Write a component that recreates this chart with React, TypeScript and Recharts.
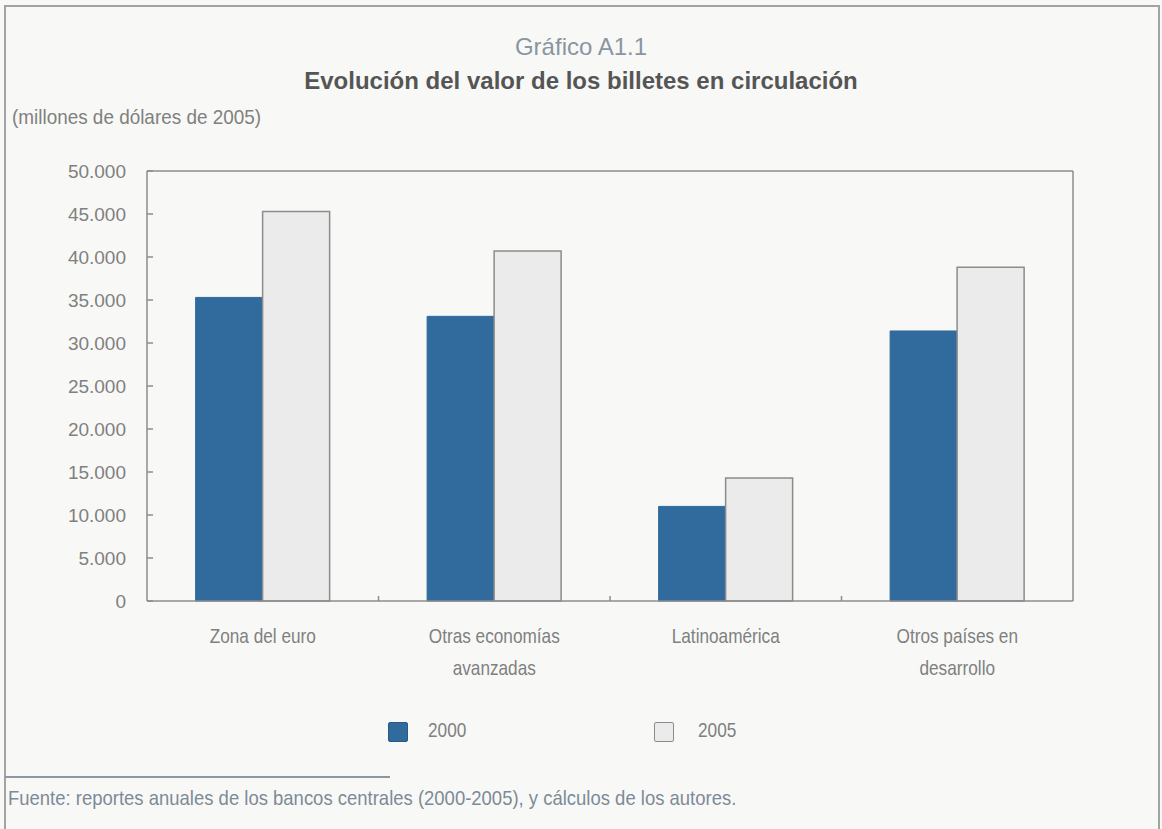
import React from 'react';
import { BarChart, Bar, XAxis, YAxis, CartesianGrid } from 'recharts';

const categories = [
  'Zona del euro',
  'Otras economías\navanzadas',
  'Latinoamérica',
  'Otros países en\ndesarrollo',
];
const values2000 = [35300, 33100, 11000, 31400];
const values2005 = [45300, 40700, 14300, 38800];
const seriesNames = ['2000', '2005'];
const yTicks = [0, 5000, 10000, 15000, 20000, 25000, 30000, 35000, 40000, 45000, 50000];

const data = categories.map((name, i) => ({
  name,
  y2000: values2000[i],
  y2005: values2005[i],
}));

const W = 1162;
const H = 829;
const CHART_H = 700;
const MARGIN = { top: 171, right: 89, left: 0, bottom: 0 };
const Y_AXIS_W = 147;
const X_AXIS_H = 99;
const PLOT_W = W - MARGIN.left - MARGIN.right - Y_AXIS_W;

const BLUE = '#316a9c';
const LIGHT = '#ebebeb';
const AXIS = '#8c8c8c';
const TEXT = '#808080';
const SANS = '"Liberation Sans", Arial, Helvetica, sans-serif';
// no condensed face installed: squeeze Liberation Sans horizontally
const NARROW_X = 0.82;

const fmt = (v: number) => String(v).replace(/\B(?=(\d{3})+(?!\d))/g, '.');

const CategoryTick = (props: any) => {
  const { x, y, payload, index } = props;
  const lines = String(payload.value).split('\n');
  const half = PLOT_W / categories.length / 2;
  return (
    <g>
      {index < categories.length - 1 && (
        <line x1={x + half} x2={x + half} y1={y} y2={y - 5} stroke={AXIS} strokeWidth={1.5} />
      )}
      <g transform={`translate(${x},${y}) scale(${NARROW_X},1)`}>
        <text x={0} y={0} textAnchor="middle" fill={TEXT} fontSize={21} fontFamily={SANS}>
          {lines.map((l, i) => (
            <tspan key={i} x={0} dy={i === 0 ? 42 : 32}>
              {l}
            </tspan>
          ))}
        </text>
      </g>
    </g>
  );
};

const Narrow = ({
  children,
  style,
  squeeze = NARROW_X,
}: {
  children: React.ReactNode;
  style: React.CSSProperties;
  squeeze?: number;
}) => (
  <div style={{ position: 'absolute', whiteSpace: 'nowrap', ...style }}>
    <span
      style={{
        display: 'inline-block',
        transform: `scaleX(${squeeze})`,
        transformOrigin: 'left center',
        fontFamily: SANS,
      }}
    >
      {children}
    </span>
  </div>
);

const legendItems = [
  { name: seriesNames[0], fill: BLUE, stroke: '#2a5a86', left: 388, textLeft: 428 },
  { name: seriesNames[1], fill: LIGHT, stroke: AXIS, left: 654, textLeft: 698 },
];

export default function App() {
  return (
    <div
      style={{
        position: 'absolute',
        left: 0,
        top: 0,
        width: W,
        height: H,
        background: '#f8f9f6',
        overflow: 'hidden',
      }}
    >
      {/* outer frame */}
      <div
        style={{
          position: 'absolute',
          left: 4,
          top: 5,
          width: 1152,
          height: 840,
          borderTop: '2px solid #a3a3a3',
          borderLeft: '2px solid #a3a3a3',
          borderRight: '2px solid #a3a3a3',
        }}
      />

      <div
        style={{
          position: 'absolute',
          left: 0,
          width: W,
          top: 33,
          textAlign: 'center',
          fontFamily: SANS,
          fontSize: 24,
          color: '#8a95a2',
        }}
      >
        Gráfico A1.1
      </div>
      <div
        style={{
          position: 'absolute',
          left: 0,
          width: W,
          top: 67,
          textAlign: 'center',
          fontFamily: SANS,
          fontSize: 24,
          fontWeight: 'bold',
          color: '#555555',
        }}
      >
        Evolución del valor de los billetes en circulación
      </div>
      <Narrow style={{ left: 12, top: 105, fontSize: 21, color: TEXT }} squeeze={0.9}>
        (millones de dólares de 2005)
      </Narrow>

      <div style={{ position: 'absolute', left: 0, top: 0 }}>
        <BarChart
          width={W}
          height={CHART_H}
          data={data}
          margin={MARGIN}
          barCategoryGap="21%"
          barGap={0}
        >
          <CartesianGrid
            stroke={AXIS}
            strokeWidth={1.5}
            horizontalCoordinatesGenerator={(p: any) => [p.offset.top]}
            verticalCoordinatesGenerator={(p: any) => [p.offset.left + p.offset.width]}
          />
          <XAxis
            dataKey="name"
            height={X_AXIS_H}
            interval={0}
            tickLine={false}
            tickSize={0}
            tickMargin={0}
            axisLine={{ stroke: AXIS, strokeWidth: 1.5 }}
            tick={<CategoryTick />}
          />
          <YAxis
            width={Y_AXIS_W}
            domain={[0, 50000]}
            ticks={yTicks}
            interval={0}
            tickFormatter={fmt}
            tickSize={-6}
            tickMargin={27}
            axisLine={{ stroke: AXIS, strokeWidth: 1.5 }}
            tickLine={{ stroke: AXIS, strokeWidth: 1.5 }}
            tick={{ fill: TEXT, fontSize: 19, fontFamily: SANS }}
          />
          <Bar dataKey="y2000" name={seriesNames[0]} fill={BLUE} stroke={BLUE} isAnimationActive={false} />
          <Bar
            dataKey="y2005"
            name={seriesNames[1]}
            fill={LIGHT}
            stroke={AXIS}
            strokeWidth={1.5}
            isAnimationActive={false}
          />
        </BarChart>
      </div>

      {legendItems.map((it) => (
        <React.Fragment key={it.name}>
          <div
            style={{
              position: 'absolute',
              left: it.left,
              top: 722,
              width: 18,
              height: 18,
              background: it.fill,
              border: `1.5px solid ${it.stroke}`,
              borderRadius: 2,
            }}
          />
          <Narrow style={{ left: it.textLeft, top: 718, fontSize: 21, color: TEXT }}>{it.name}</Narrow>
        </React.Fragment>
      ))}

      <div
        style={{
          position: 'absolute',
          left: 5,
          top: 776,
          width: 385,
          height: 0,
          borderTop: '2px solid #8e96a3',
        }}
      />
      <Narrow style={{ left: 8, top: 786, fontSize: 21, color: '#7d8a98' }} squeeze={0.88}>
        Fuente: reportes anuales de los bancos centrales (2000-2005), y cálculos de los autores.
      </Narrow>
    </div>
  );
}
